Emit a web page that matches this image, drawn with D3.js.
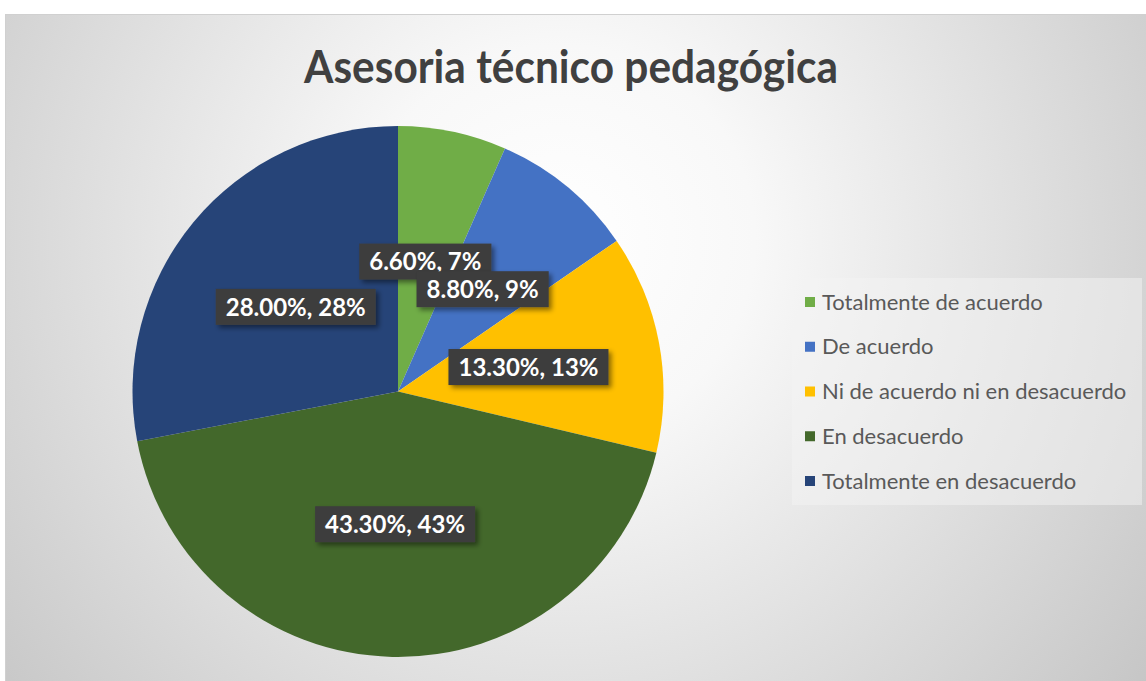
<!DOCTYPE html>
<html>
<head>
<meta charset="utf-8">
<script src="https://cdn.jsdelivr.net/npm/d3@7"></script>
<style>
  html, body { margin: 0; padding: 0; background: #fff; }
  svg { display: block; }
</style>
</head>
<body>
<div id="chart"></div>
<script>
const TITLE = 'Asesoria técnico pedagógica'
const CATEGORIES = ['Totalmente de acuerdo', 'De acuerdo', 'Ni de acuerdo ni en desacuerdo', 'En desacuerdo', 'Totalmente en desacuerdo']
const VALUES = [6.6, 8.8, 13.3, 43.3, 28.0]
const LABELS = ['6.60%, 7%', '8.80%, 9%', '13.30%, 13%', '43.30%, 43%', '28.00%, 28%']
const COLORS = ['#70ad47', '#4472c4', '#ffc000', '#43682b', '#264478']

const W = 1146, H = 681
const CX = 398, CY = 391.5, R = 265.5
const FONT = 'Lato, "Open Sans", sans-serif'

const svg = d3.select('#chart').append('svg')
  .attr('width', W).attr('height', H)

const defs = svg.append('defs')
const grad = defs.append('radialGradient')
  .attr('id', 'bg').attr('gradientUnits', 'userSpaceOnUse')
  .attr('cx', 560).attr('cy', 240).attr('r', 780)
grad.append('stop').attr('offset', 0).attr('stop-color', '#ffffff')
grad.append('stop').attr('offset', 0.25).attr('stop-color', '#f8f8f8')
grad.append('stop').attr('offset', 1).attr('stop-color', '#c2c2c2')

const shadow = defs.append('filter').attr('id', 'shadow')
  .attr('x', '-20%').attr('y', '-30%').attr('width', '150%').attr('height', '180%')
shadow.append('feDropShadow')
  .attr('dx', 3).attr('dy', 3).attr('stdDeviation', 2.5)
  .attr('flood-color', '#000').attr('flood-opacity', 0.45)

// chart area
svg.append('rect')
  .attr('x', 5.5).attr('y', 14.5).attr('width', W).attr('height', H)
  .attr('fill', 'url(#bg)').attr('stroke', '#d0d0d0')

svg.append('text')
  .attr('x', 571).attr('y', 83)
  .attr('text-anchor', 'middle')
  .attr('font-family', FONT).attr('font-weight', 700)
  .attr('font-size', 45).attr('fill', '#404040')
  .attr('textLength', 534).attr('lengthAdjust', 'spacingAndGlyphs')
  .text(TITLE)

const pie = d3.pie().sort(null).value(d => d)
const arcs = pie(VALUES)
const arc = d3.arc().innerRadius(0).outerRadius(R)
const labelArc = d3.arc().innerRadius(R * 0.5).outerRadius(R * 0.5)

const g = svg.append('g').attr('transform', `translate(${CX},${CY})`)
g.selectAll('path.slice').data(arcs).enter()
  .append('path').attr('class', 'slice')
  .attr('d', arc)
  .attr('fill', (d, i) => COLORS[i])

const lab = g.selectAll('g.lab').data(arcs).enter()
  .append('g').attr('class', 'lab')
  .attr('transform', d => `translate(${labelArc.centroid(d)})`)
lab.each(function (d, i) {
  const sel = d3.select(this)
  const rect = sel.append('rect').attr('fill', '#3d3d3d').attr('filter', 'url(#shadow)')
  const t = sel.append('text')
    .attr('text-anchor', 'middle').attr('dy', '0.36em')
    .attr('font-family', FONT).attr('font-weight', 700)
    .attr('font-size', 24).attr('fill', '#fff')
    .text(LABELS[i])
  const bw = t.node().getComputedTextLength() + 20
  rect.attr('x', -bw / 2).attr('y', -18).attr('width', bw).attr('height', 36)
})

// legend
svg.append('rect')
  .attr('x', 792).attr('y', 278).attr('width', 350).attr('height', 227)
  .attr('fill', '#f4f4f4').attr('fill-opacity', 0.5)
const legend = svg.append('g')
const row = d3.scalePoint().domain(CATEGORIES).range([302, 481])
const item = legend.selectAll('g').data(CATEGORIES).enter()
  .append('g').attr('transform', d => `translate(805,${row(d)})`)
item.append('rect')
  .attr('x', 0).attr('y', -5).attr('width', 10).attr('height', 10)
  .attr('fill', (d, i) => COLORS[i])
item.append('text')
  .attr('x', 17).attr('dy', '0.35em')
  .attr('font-family', FONT).attr('font-size', 22).attr('fill', '#595959')
  .text(d => d)
</script>
</body>
</html>
